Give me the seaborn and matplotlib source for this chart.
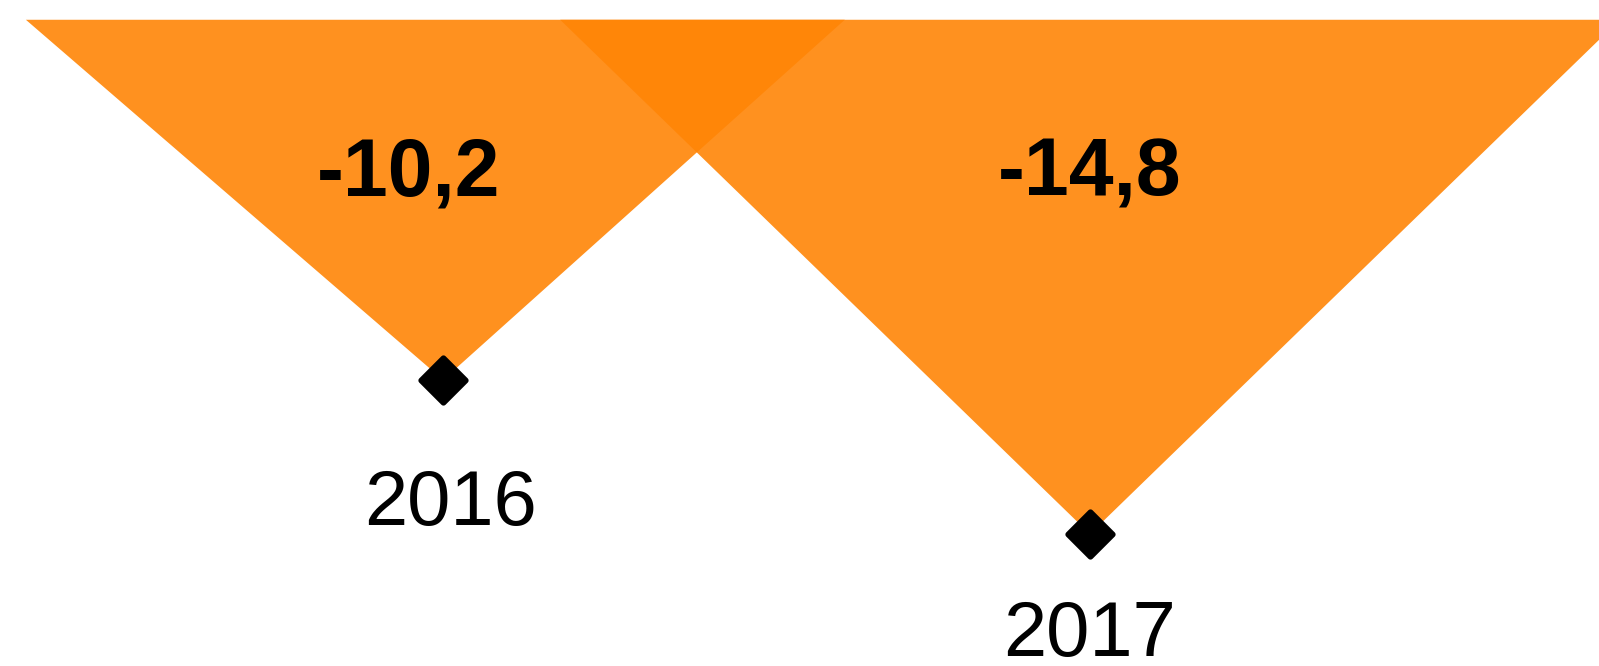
import matplotlib
matplotlib.use("Agg")
import matplotlib.pyplot as plt
import numpy as np
import pandas as pd
import seaborn as sns

# chart values
years = ["2016", "2017"]
values = [-10.2, -14.8]
value_labels = ["-10,2", "-14,8"]

sns.set_theme(style="white")
plt.rcParams["font.family"] = ["Liberation Sans", "DejaVu Sans"]

FILL = "#FF8506"
TOP = 0.55                 # y of the flat top edge, value units
HALF_W = [0.633, 0.819]    # triangle half widths, x units
TOP_DX = [-0.012, 0.0]     # top edge centre shift
LABEL_Y = -4.08
LABEL_DX = [-0.053, 0.0]
YEAR_OFFSET = [(7, -125), (0, -101)]   # pixels below the diamond

df = pd.DataFrame({"x": np.arange(len(years)), "value": values, "year": years})

fig = plt.figure(figsize=(15.99, 6.66), dpi=100)
ax = fig.add_axes([0, 0, 1, 1])

for i, row in df.iterrows():
    hw = HALF_W[i]
    cx = row.x + TOP_DX[i]
    ax.fill([cx - hw, cx + hw, row.x], [TOP, TOP, row.value],
            color=FILL, alpha=0.9, linewidth=0, zorder=1)

sns.scatterplot(data=df, x="x", y="value", marker="D", s=520, color="black",
                edgecolor="black", linewidth=4, ax=ax, zorder=3, legend=False)
for coll in ax.collections:
    coll.set_joinstyle("round")

for i, row in df.iterrows():
    ax.text(row.x + LABEL_DX[i], LABEL_Y, value_labels[i], ha="center", va="center",
            fontsize=58, fontweight="bold", color="black", zorder=4)
    ax.annotate(row.year, (row.x, row.value), xytext=YEAR_OFFSET[i],
                textcoords="offset pixels", ha="center", va="center",
                fontsize=56, color="black", zorder=4)

ax.set_xlim(-0.685, 1.787)
ax.set_ylim(-18.74, 1.14)
ax.axis("off")

fig.savefig("out.png", dpi=100)
